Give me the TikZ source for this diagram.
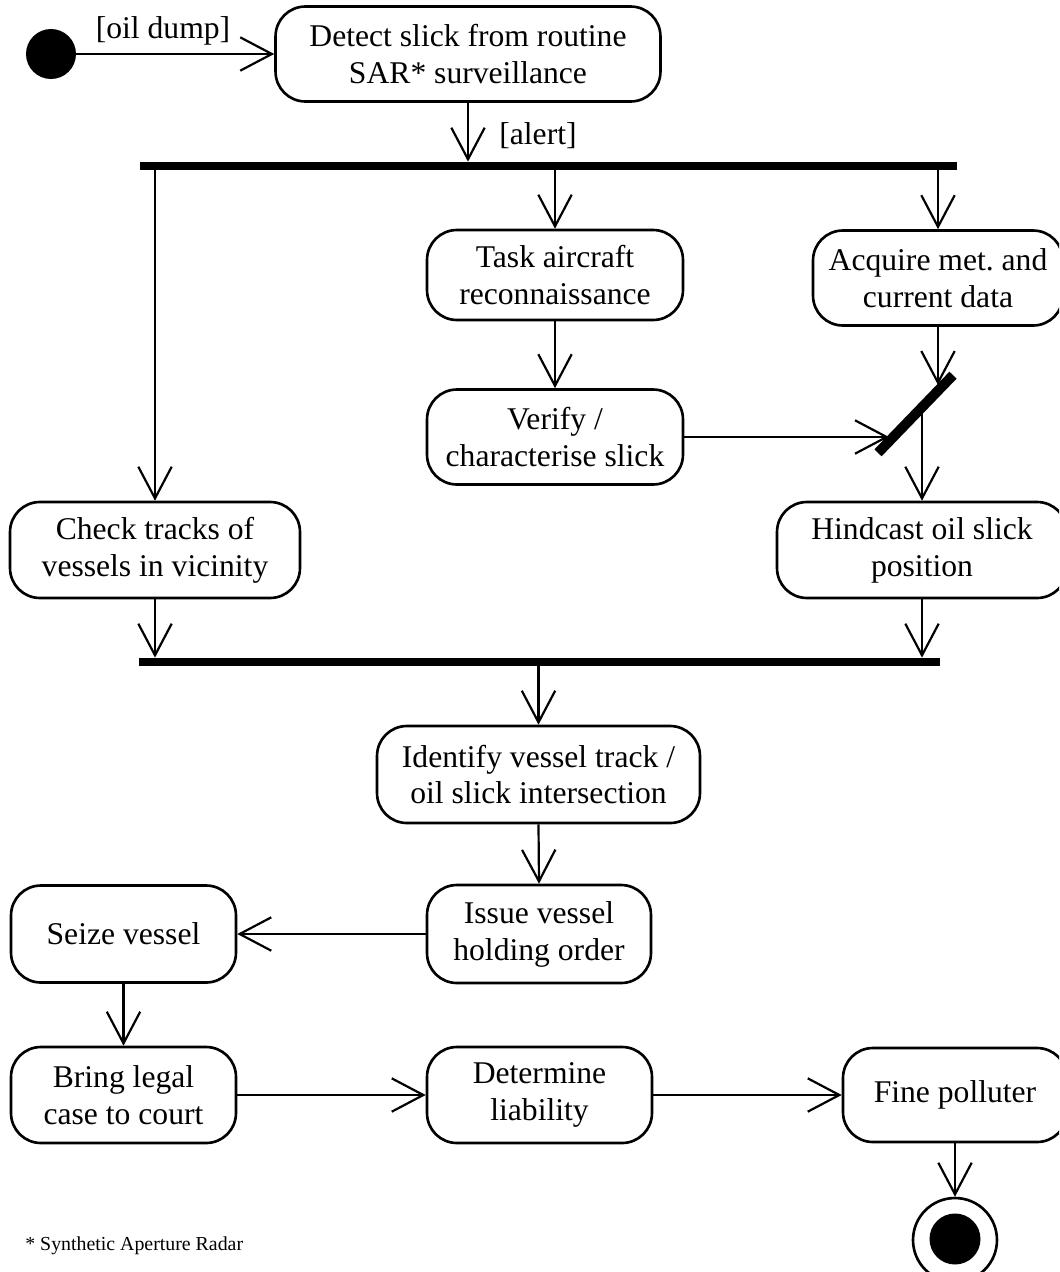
\documentclass[tikz,border=0pt]{standalone}
\usepackage{fontspec}
\setmainfont{Liberation Serif}
\usetikzlibrary{arrows.meta}
\frenchspacing
\begin{document}
\begin{tikzpicture}[x=0.02cm,y=-0.02cm,
  act/.style={draw, line width=1.5pt, rounded corners=17pt, align=center, inner sep=0pt,
              font=\fontsize{18}{21}\selectfont},
  barnode/.style={fill=black, draw=none, inner sep=0pt, rectangle},
  arr/.style={line width=1.25pt, -{Straight Barb[length=18pt,width=19pt]}},
  lbl/.style={font=\fontsize{18}{21}\selectfont, inner sep=0pt}]
\useasboundingbox (0,0) rectangle (1059,1272);
\clip (0,0) rectangle (1059,1272);

% start
\node[circle, fill=black, inner sep=0pt, minimum size=1.0cm] (start) at (51,54) {};

% activities
\node[act, minimum width=7.7cm, minimum height=1.9cm] (detect) at (468,54) {Detect slick from routine\\SAR* surveillance};
\node[act, minimum width=5.12cm, minimum height=1.8cm] (task) at (555,275) {Task aircraft\\reconnaissance};
\node[act, minimum width=5.0cm, minimum height=1.9cm] (acquire) at (938,278) {Acquire met.\ and\\current data};
\node[act, minimum width=5.12cm, minimum height=1.9cm] (verify) at (555,437) {Verify /\\characterise slick};
\node[act, minimum width=5.8cm, minimum height=1.92cm] (check) at (155,550) {Check tracks of\\vessels in vicinity};
\node[act, minimum width=5.8cm, minimum height=1.92cm] (hindcast) at (922,550) {Hindcast oil slick\\position};
\node[act, minimum width=6.46cm, minimum height=1.94cm] (identify) at (538.5,774.5) {Identify vessel track /\\oil slick intersection};
\node[act, minimum width=4.48cm, minimum height=1.96cm] (issue) at (539,934) {Issue vessel\\holding order};
\node[act, minimum width=4.5cm, minimum height=1.94cm] (seize) at (123.5,934) {Seize vessel};
\node[act, minimum width=4.5cm, minimum height=1.92cm] (bring) at (123.5,1095) {Bring legal\\case to court};
\node[act, minimum width=4.5cm, minimum height=1.92cm] (determine) at (539.5,1095) {Determine\\liability};
\node[act, minimum width=4.48cm, minimum height=1.88cm] (fine) at (955,1095) {Fine polluter};

% end
\node[circle, draw, line width=1.5pt, inner sep=0pt, minimum size=1.68cm] (endnode) at (955,1240) {};
\node[circle, fill=black, inner sep=0pt, minimum size=1.02cm] (endin) at (955,1239) {};

% bars
\node[barnode, minimum width=16.34cm, minimum height=0.16cm] (fork) at (548.5,166) {};
\node[barnode, minimum width=16.02cm, minimum height=0.16cm] (join) at (539.5,662) {};
\node[barnode, minimum width=2.16cm, minimum height=0.2cm, rotate=46] (diag) at (915.5,414) {};
\coordinate (din1) at (889,437);
\coordinate (din2) at (938,385);
\coordinate (dout) at (922,410);

% labels
\node[lbl] (oillbl) at (163,31) {[oil dump]};
\node[lbl] (alertlbl) at (538,136) {[alert]};
\node[font=\fontsize{11.3}{13}\selectfont, inner sep=0pt, anchor=west] (foot) at (25,1246) {* Synthetic Aperture Radar};

% connectors
\draw[arr] (start.east) -- (detect.west);
\draw[arr] (detect.south) -- (detect.south |- fork.north);
\draw[arr] (fork.south -| check.north) -- (check.north);
\draw[arr] (fork.south -| task.north) -- (task.north);
\draw[arr] (fork.south -| acquire.north) -- (acquire.north);
\draw[arr] (task.south) -- (verify.north);
\draw[arr] (verify.east) -- (din1);
\draw[arr] (acquire.south) -- (din2);
\draw[arr] (dout) -- (hindcast.north);
\draw[arr] (check.south) -- (check.south |- join.north);
\draw[arr] (hindcast.south) -- (hindcast.south |- join.north);
\draw[arr] (join.south -| identify.north) -- (identify.north);
\draw[arr] (identify.south) -- (issue.north);
\draw[arr] (issue.west) -- (seize.east);
\draw[arr] (seize.south) -- (bring.north);
\draw[arr] (bring.east) -- (determine.west);
\draw[arr] (determine.east) -- (fine.west);
\draw[arr] (fine.south) -- (endnode.north);
\end{tikzpicture}
\end{document}
